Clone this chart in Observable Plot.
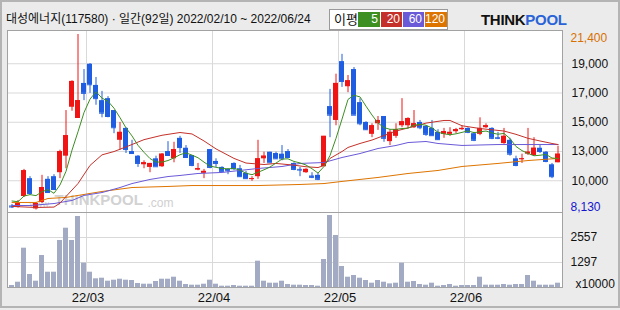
<!DOCTYPE html>
<html><head><meta charset="utf-8">
<script src="https://cdn.jsdelivr.net/npm/d3@7"></script>
<script src="https://cdn.jsdelivr.net/npm/@observablehq/plot@0.6"></script>
<style>
html,body{margin:0;padding:0;}
body{width:620px;height:310px;background:#ebebeb;position:relative;overflow:hidden;font-family:"Liberation Sans","Noto Sans CJK KR",sans-serif;}
#border{position:absolute;left:0;top:0;width:616px;height:304px;border:2px solid #b4b4b4;}
#title{position:absolute;left:6px;top:12px;font-size:12px;line-height:14px;color:#111;white-space:nowrap;}
#legend{position:absolute;left:329px;top:9px;width:117px;height:19px;background:#fff;border:1px solid #9a9a9a;}
#legend .lab{position:absolute;left:4px;top:2px;font-size:13px;line-height:15px;color:#111;}
#legend .box{position:absolute;top:2px;height:15px;color:#fff;font-size:12px;line-height:15px;text-align:right;box-sizing:border-box;padding-right:2px;}
#logo{position:absolute;left:481px;top:11px;font-size:15px;font-weight:bold;letter-spacing:-0.3px;font-family:"Liberation Sans",sans-serif;}
#logo .t{color:#111;}
#logo .p{color:#2a63d8;}
.chart{position:absolute;left:0;}
</style></head><body>
<div id="border"></div>
<div id="title">대성에너지(117580) · 일간(92일) 2022/02/10 ~ 2022/06/24</div>
<div id="legend"><span class="lab">이평</span></div>
<div id="logo"><span class="t">THINK</span><span class="p">POOL</span></div>
<div id="price" class="chart" style="top:0"></div>
<div id="vol" class="chart" style="top:212px"></div>
<script>
// ---- data (prices in KRW, volume in units of 10,000 shares) ----
const holidays = ["2022-03-01","2022-03-09","2022-05-05","2022-06-01","2022-06-06"];
const open = [8430,8320,9150,10500,8210,8700,10450,10650,10950,12200,
  15900,15050,17700,19150,17550,16400,16550,15650,13400,14300,
  12550,12200,11550,11350,12000,11400,12550,12000,13550,12800,
  12250,11150,10900,12700,11800,11350,11200,11650,11250,10900,
  10450,10650,12000,12500,12400,12350,12550,11650,11200,10950,
  10700,10750,11400,15950,14900,19350,17450,18750,16250,14750,
  13850,14650,15200,13300,13700,14500,14500,14350,14750,14450,
  14300,14000,13850,13850,14050,14200,14300,13900,13850,14350,
  14300,13600,13150,13400,12000,11950,12350,12250,12800,12500,
  11550,11700];
const high = [8550,8850,11200,10650,8700,10750,10650,10800,12650,15650,
  17900,21400,18750,19200,18150,17100,16700,15650,14750,14350,
  13400,12250,11850,11650,12200,12400,13300,13250,13700,13000,
  12250,11650,11200,12700,12000,11400,11250,11700,11500,11050,
  10650,13400,12500,12500,12500,13000,12700,11700,11350,11250,
  10950,10900,13700,17250,18400,19900,18300,18900,16550,14800,
  14650,15200,15200,14200,14650,16550,15100,15650,14900,14500,
  14900,14200,14300,14350,14300,14500,14350,14000,15100,14650,
  14350,14000,14300,13550,12200,12350,14300,13600,13000,12550,
  11650,12950];
const low = [8240,8280,9080,9230,8130,8620,9380,9600,10500,11250,
  15600,15050,16400,16950,16050,15100,15100,13900,12650,12400,
  12400,11350,11250,10950,11400,11350,12250,11700,12400,12100,
  11400,11100,10500,11250,11350,11050,10800,11100,10600,10450,
  10300,10450,11650,11700,11950,11850,12100,11100,10650,10900,
  10500,10350,11400,13600,14500,17400,17000,15300,14500,14150,
  13600,14150,13250,13000,13550,14350,14300,14300,14200,13700,
  13750,13400,13550,13700,13900,14150,13900,13300,13750,14300,
  13450,13450,13100,12200,11400,11650,12250,12200,12400,11700,
  10500,11700];
const close = [8360,8620,11100,9380,8620,9830,9450,9680,12550,13750,
  17850,16400,16950,17600,16550,15450,15200,14350,14000,12700,
  12400,11650,11700,11650,11400,12350,12250,12700,12850,12100,
  11500,11250,11050,11350,11650,11050,11100,11250,10650,10500,
  10500,12000,12200,11700,12000,12000,12100,11200,11150,11200,
  10600,10450,13700,15300,17700,17850,17900,15300,14650,14200,
  14500,14900,13550,14000,14200,14800,15050,14650,14350,13850,
  13750,13450,14050,14000,14200,14300,14000,13400,14300,14500,
  13550,13550,13700,12350,11500,12000,12500,12800,12550,11800,
  10650,12350];
const priorCloses = [8900,8950,8850,9000]; // 4 sessions before 02/10, for the 5-day average
const volume = [138,304,2018,692,355,1650,808,808,2406,3026,
  2406,3615,1262,808,475,506,355,405,455,405,
  390,239,203,203,339,455,455,556,355,188,
  153,153,203,405,203,103,103,138,103,103,
  103,1363,355,254,254,355,188,153,153,138,
  138,103,1448,3666,2658,1095,556,642,506,390,
  254,390,304,220,254,1262,304,339,188,153,
  254,103,138,188,103,138,138,138,556,153,
  153,153,188,153,188,188,642,355,153,153,
  153,254];
const volRange = [37, 3817];
// moving averages: [session index, value]
const ma20 = [[0,8400],[4,8320],[7,8350],[8,8650],[9,9150],[11,10130],[13,11500],[15,12300],[17,12550],[19,12900],
  [22,13450],[25,13780],[28,13990],[30,13880],[32,13350],[34,12750],[37,12030],[39,11680],[42,11570],[44,11650],
  [47,11520],[49,11400],[51,11340],[52,11500],[53,12030],[55,12550],[56,12860],[58,13160],[60,13420],[62,13760],
  [64,14100],[67,14450],[69,14700],[72,14900],[73,14900],[75,14500],[78,14290],[82,14100],[84,13850],[86,13550],
  [88,13350],[90,13160],[91,13080]];
const ma60 = [[0,8470],[3,8470],[7,8620],[10,8850],[12,9230],[15,9450],[18,9830],[20,10130],[23,10440],[26,10660],
  [28,10740],[31,10890],[35,10970],[38,11120],[41,11270],[45,11420],[48,11650],[52,11720],[55,12100],[58,12400],
  [61,12780],[64,13010],[66,13230],[69,13310],[71,13160],[75,13010],[81,13080],[86,13080],[91,13080]];
const ma120 = [[0,8700],[4,8700],[6,9000],[9,9080],[15,9530],[20,9830],[26,9910],[30,9980],[41,9980],[48,10060],
  [52,10130],[55,10290],[61,10590],[66,10890],[71,11120],[75,11420],[81,11650],[86,11870],[91,12030]];
const maNames = ["5","20","60","120"];
const maColors = ["#3d8f22","#c4312a","#6a5ad8","#de7400"];

// ---- derived ----
const fmt = d3.utcFormat("%Y-%m-%d");
const dates = d3.utcDay.range(new Date("2022-02-10"), new Date("2022-06-25"))
  .filter(d => d.getUTCDay() % 6 !== 0 && !holidays.includes(fmt(d))).map(fmt);
const rows = dates.map((date, i) => ({date, open: open[i], high: high[i], low: low[i], close: close[i], vol: volume[i], up: close[i] >= open[i]}));
const allC = priorCloses.concat(close);
const ma5 = dates.map((date, i) => ({date, v: d3.mean(allC.slice(i, i + 5))}));
const toRows = pts => pts.map(([i, v]) => ({date: dates[i], v}));
const monthStarts = dates.filter((d, i) => i > 0 && d.slice(5, 7) !== dates[i - 1].slice(5, 7));
const yMin = d3.min(low), yMax = d3.max(high);
const priceGrid = d3.range(1, 6).map(k => yMin + k * (yMax - yMin) / 6);
const volGrid = [1, 2].map(k => volRange[0] + k * (volRange[1] - volRange[0]) / 3);

const UP = "#f01414", DOWN = "#1f5ee2", GRID = "#d9d9d9", FRAME = "#a2a2a2";
const xScale = {type: "band", domain: dates, range: [8, 560], paddingInner: 0.2, paddingOuter: 0.1, round: true, axis: null};
const font = "Liberation Sans, sans-serif";

// legend boxes
const legend = document.getElementById("legend");
const boxLeft = [28, 51, 73, 95], boxW = [22, 21, 21, 22];
maNames.forEach((n, k) => {
  const b = document.createElement("div");
  b.className = "box"; b.textContent = n;
  b.style.left = boxLeft[k] + "px"; b.style.width = boxW[k] + "px"; b.style.background = maColors[k];
  legend.appendChild(b);
});

const price = Plot.plot({
  width: 620, height: 213,
  marginLeft: 7, marginRight: 58, marginTop: 30, marginBottom: 1,
  x: xScale,
  y: {domain: [yMin, yMax], range: [209.5, 34], axis: null},
  style: {background: "transparent", overflow: "visible", fontFamily: font},
  marks: [
    Plot.frame({fill: "white", stroke: null}),
    Plot.ruleY(priceGrid, {stroke: GRID}),
    Plot.ruleX(monthStarts, {x: d => d, stroke: GRID, dx: -3.5}),
    Plot.text(["www."], {frameAnchor: "bottom-left", dx: 22, dy: -6, text: d => d, fill: "#cfcfcf", fontSize: 9, textAnchor: "start"}),
    Plot.text(["THINKPOOL"], {frameAnchor: "bottom-left", dx: 47, dy: -8, text: d => d, fill: "#d2d2d2", fontSize: 15, fontWeight: "bold", textAnchor: "start"}),
    Plot.text([".com"], {frameAnchor: "bottom-left", dx: 140, dy: -6, text: d => d, fill: "#cfcfcf", fontSize: 12, textAnchor: "start"}),
    Plot.ruleX(rows, {x: "date", y1: "low", y2: "high", stroke: d => d.up ? UP : DOWN}),
    Plot.barY(rows, {x: "date", y1: "open", y2: "close", fill: d => d.up ? UP : DOWN}),
    Plot.tickY(rows, {x: "date", y: "close", stroke: d => d.up ? UP : DOWN}),
    Plot.line(toRows(ma120), {x: "date", y: "v", stroke: maColors[3], strokeWidth: 1}),
    Plot.line(toRows(ma60), {x: "date", y: "v", stroke: maColors[2], strokeWidth: 1}),
    Plot.line(toRows(ma20), {x: "date", y: "v", stroke: maColors[1], strokeWidth: 1}),
    Plot.line(ma5, {x: "date", y: "v", stroke: maColors[0], strokeWidth: 1}),
    Plot.frame({stroke: FRAME}),
    Plot.text(priceGrid, {y: d => d, text: d => d3.format(",")(Math.round(d / 1000) * 1000), frameAnchor: "right", dx: 9, textAnchor: "start", fontSize: 12, fill: "#111"}),
    Plot.text([yMax], {y: d => d, text: d => d3.format(",")(d), frameAnchor: "right", dx: 8, dy: 4, textAnchor: "start", fontSize: 12, fill: "#d87000"}),
    Plot.text([yMin], {y: d => d, text: d => d3.format(",")(d), frameAnchor: "right", dx: 8, dy: -2.5, textAnchor: "start", fontSize: 12, fill: "#1414d0"})
  ]
});
document.getElementById("price").appendChild(price);

const vol = Plot.plot({
  width: 620, height: 98,
  marginLeft: 7, marginRight: 58, marginTop: 0, marginBottom: 23,
  x: xScale,
  y: {domain: volRange, range: [75, 0], axis: null},
  style: {background: "transparent", overflow: "visible", fontFamily: font},
  marks: [
    Plot.frame({fill: "white", stroke: null}),
    Plot.ruleY(volGrid, {stroke: GRID}),
    Plot.ruleX(monthStarts, {x: d => d, stroke: GRID, dx: -3.5}),
    Plot.barY(rows, {x: "date", y1: volRange[0], y2: "vol", fill: "#a3aac3"}),
    Plot.frame({stroke: FRAME}),
    Plot.text(volGrid, {y: d => d, text: d => String(Math.round(d)), frameAnchor: "right", dx: 8, textAnchor: "start", fontSize: 12, fill: "#111"}),
    Plot.text(["x10000"], {frameAnchor: "bottom-right", dx: 13, text: d => d, textAnchor: "start", fontSize: 12, fill: "#111"}),
    Plot.text(monthStarts, {x: d => d, text: d => d.slice(2, 4) + "/" + d.slice(5, 7), frameAnchor: "bottom", dx: -2, dy: 14, fontSize: 13, fill: "#111"})
  ]
});
document.getElementById("vol").appendChild(vol);
</script>
</body></html>
